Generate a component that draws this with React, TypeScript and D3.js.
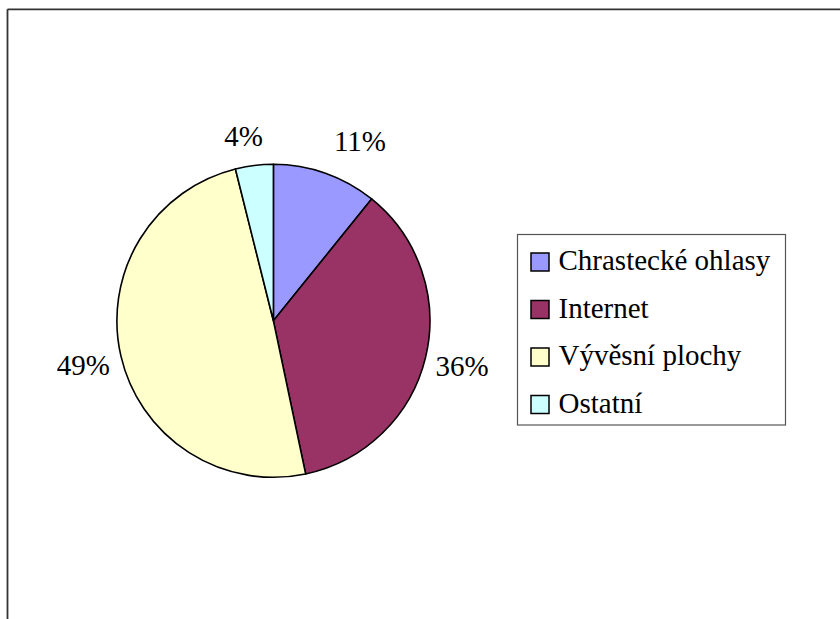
import React from "react";
import * as d3 from "d3";

const categories = ["Chrastecké ohlasy", "Internet", "Vývěsní plochy", "Ostatní"];
const values = [10.8, 35.9, 49.4, 3.9];
const labels = ["11%", "36%", "49%", "4%"];
const colors = ["#9999FF", "#993366", "#FFFFCC", "#CCFFFF"];

// layout constants (not data)
const W = 840;
const H = 619;
const CX = 273.4;
const CY = 320.8;
const R = 156.5;
const LABEL_R = 194;
const LABEL_NUDGE: [number, number][] = [[22, 3], [0, 0], [-1, 1], [-6, 8]];
const FS = 29;
const FAMILY = "Times New Roman";

export default function App() {
  const pie = d3.pie<number>().sort(null).startAngle(0).endAngle(2 * Math.PI);
  const arcs = pie(values);
  const arcGen = d3.arc<d3.PieArcDatum<number>>().innerRadius(0).outerRadius(R);

  const legendX = 517.5;
  const legendY = 234.5;
  const legendW = 268;
  const legendH = 190.5;
  const rowY = d3.scaleLinear().domain([0, 1]).range([270, 317.5]);

  return (
    <svg width={W} height={H} style={{ position: "absolute", left: 0, top: 0 }}>
      <rect x={0} y={0} width={W} height={H} fill="#fff" />
      <line x1={7.5} y1={9.3} x2={W} y2={9.3} stroke="#333" strokeWidth={1.8} />
      <line x1={7.5} y1={9.3} x2={7.5} y2={H} stroke="#333" strokeWidth={1.8} />

      <g transform={`translate(${CX},${CY})`}>
        {arcs.map((a, i) => (
          <path key={i} d={arcGen(a) || ""} fill={colors[i]} stroke="#000" strokeWidth={1.6} strokeLinejoin="round" />
        ))}
      </g>
      {arcs.map((a, i) => {
        const mid = (a.startAngle + a.endAngle) / 2;
        const x = CX + Math.sin(mid) * LABEL_R + LABEL_NUDGE[i][0];
        const y = CY - Math.cos(mid) * LABEL_R + LABEL_NUDGE[i][1];
        return (
          <text key={"l" + i} x={x} y={y + 10} textAnchor="middle" fontFamily={FAMILY} fontSize={FS}>
            {labels[i]}
          </text>
        );
      })}

      <rect x={legendX} y={legendY} width={legendW} height={legendH} fill="#fff" stroke="#555" strokeWidth={1.2} />
      {categories.map((c, i) => {
        const by = rowY(i);
        return (
          <g key={c}>
            <rect x={531} y={by - 17} width={18} height={18} fill={colors[i]} stroke="#000" strokeWidth={1.5} />
            <text x={558.5} y={by} fontFamily={FAMILY} fontSize={FS}>
              {c}
            </text>
          </g>
        );
      })}
    </svg>
  );
}
